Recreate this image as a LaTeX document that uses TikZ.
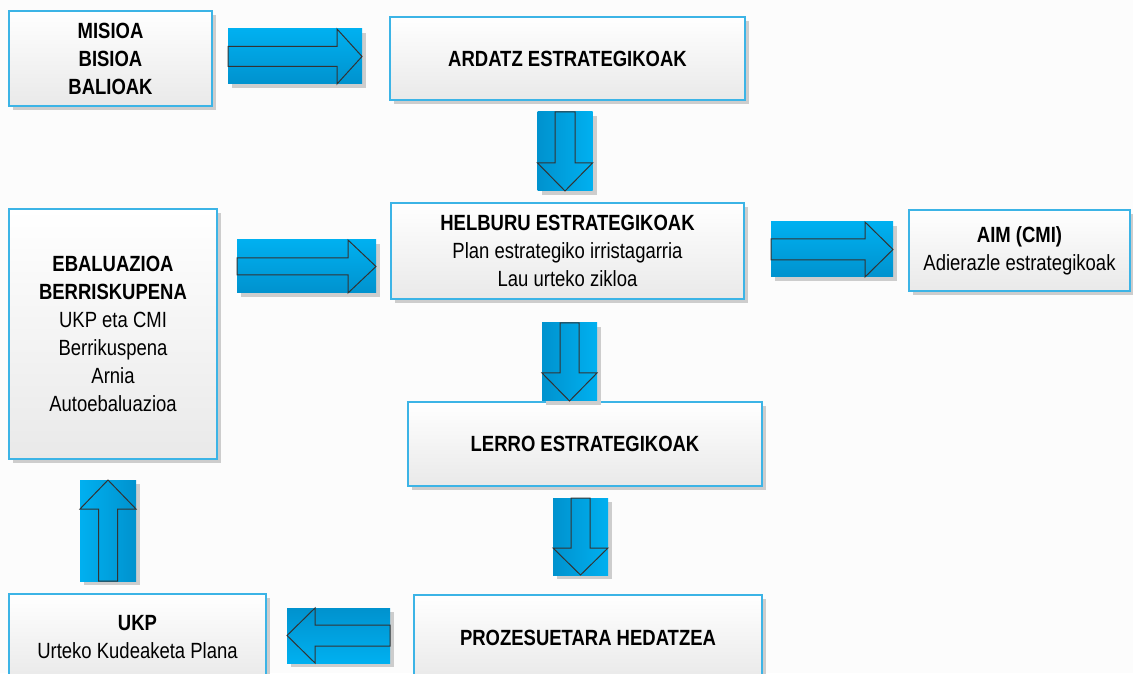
\documentclass[tikz,border=0pt]{standalone}
\usepackage{fontspec}
\setmainfont{Liberation Sans}[FakeStretch=0.84]
\usetikzlibrary{calc,shadows}
\definecolor{bg}{HTML}{FCFCFC}
\definecolor{boxline}{HTML}{3CB4E6}
\definecolor{boxbot}{HTML}{E9E9E9}
\definecolor{blueL}{HTML}{00B0F0}
\definecolor{blueD}{HTML}{0092CE}
\definecolor{shadowc}{HTML}{CDCDCD}
\definecolor{outl}{HTML}{333333}
\tikzset{
  diabox/.style={draw=boxline, line width=1.3pt, top color=white, bottom color=boxbot,
    align=center, inner sep=0pt, font=\fontsize{22}{28}\selectfont,
    drop shadow={shadow xshift=4pt, shadow yshift=-4pt, fill=shadowc, opacity=1}},
  arrline/.style={draw=outl, line width=1pt, line join=miter},
  toright/.style={top color=blueL, bottom color=blueD},
  toleft/.style={top color=blueD, bottom color=blueL},
  todown/.style={left color=blueD, right color=blueL},
  toup/.style={left color=blueL, right color=blueD},
}
% #1 start, #2 end, #3 half width, #4 shaft half width, #5 head length, #6 shading style
\newcommand\blockarrow[6]{%
  \coordinate (H) at ($(#2)!#5!(#1)$);
  \fill[shadowc] ($(#1)!#3!90:(#2)+(4,-4)$) rectangle ($(#2)!#3!90:(#1)+(4,-4)$);
  \shade[#6]
    ($(#1)!#3!90:(#2)$) rectangle ($(#2)!#3!90:(#1)$);
  \draw[arrline] ($(#1)!#4!90:(#2)$) -- ($(H)!#4!90:(#2)$) -- ($(H)!#3!90:(#2)$) -- (#2)
    -- ($(H)!#3!-90:(#2)$) -- ($(H)!#4!-90:(#2)$) -- ($(#1)!#4!-90:(#2)$) -- cycle;
}
\begin{document}
\begin{tikzpicture}[x=1pt,y=1pt]
\useasboundingbox (0,0) rectangle (1133,673);
\fill[bg] (0,0) rectangle (1133,673);
\clip (0,0) rectangle (1133,673);

% boxes
\node[diabox, minimum width=203pt, minimum height=95pt] (mis) at (110.5,614.5)
  {\bfseries MISIOA\\\bfseries BISIOA\\\bfseries BALIOAK};
\node[diabox, minimum width=355pt, minimum height=83pt] (ard) at (567.5,614.5)
  {\bfseries ARDATZ ESTRATEGIKOAK};
\node[diabox, minimum width=353pt, minimum height=96pt] (hel) at (567.5,422)
  {\bfseries HELBURU ESTRATEGIKOAK\\Plan estrategiko irristagarria\\Lau urteko zikloa};
\node[diabox, minimum width=221pt, minimum height=81pt] (aim) at (1019.5,422.5)
  {\bfseries AIM (CMI)\\Adierazle estrategikoak};
\node[diabox, minimum width=208pt, minimum height=250pt] (eba) at (113,339)
  {\bfseries EBALUAZIOA\\\bfseries BERRISKUPENA\\UKP eta CMI\\Berrikuspena\\Arnia\\Autoebaluazioa};
\node[diabox, minimum width=354pt, minimum height=84pt] (ler) at (585,229)
  {\bfseries LERRO ESTRATEGIKOAK};
\node[diabox, minimum width=348pt, minimum height=85pt] (pro) at (588,35.5)
  {\bfseries PROZESUETARA HEDATZEA};
\node[diabox, minimum width=257pt, minimum height=86pt] (ukp) at (137.5,36)
  {\bfseries UKP\\Urteko Kudeaketa Plana};

% arrow end points
\coordinate (a1s) at (228,616.5);   \coordinate (a1e) at (362,616.5);
\coordinate (a2s) at (565,561);     \coordinate (a2e) at (565,482);
\coordinate (a3s) at (237,406.5);   \coordinate (a3e) at (376,406.5);
\coordinate (a4s) at (771,423.5);   \coordinate (a4e) at (893,423.5);
\coordinate (a5s) at (569.5,350);   \coordinate (a5e) at (569.5,272);
\coordinate (a6s) at (580.5,175);   \coordinate (a6e) at (580.5,98);
\coordinate (a7s) at (390,37.5);    \coordinate (a7e) at (287,37.5);
\coordinate (a8s) at (108,92);      \coordinate (a8e) at (108,193);

\blockarrow{a1s}{a1e}{27.5pt}{10pt}{25pt}{toright}
\blockarrow{a2s}{a2e}{27.5pt}{10pt}{28pt}{todown}
\blockarrow{a3s}{a3e}{26.5pt}{8.5pt}{28pt}{toright}
\blockarrow{a4s}{a4e}{27.5pt}{10.5pt}{28pt}{toright}
\blockarrow{a5s}{a5e}{27.5pt}{9.5pt}{28pt}{todown}
\blockarrow{a6s}{a6e}{27.5pt}{9.5pt}{27pt}{todown}
\blockarrow{a7s}{a7e}{27.5pt}{10.5pt}{28pt}{toleft}
\blockarrow{a8s}{a8e}{28pt}{9.5pt}{29pt}{toup}
\end{tikzpicture}
\end{document}
